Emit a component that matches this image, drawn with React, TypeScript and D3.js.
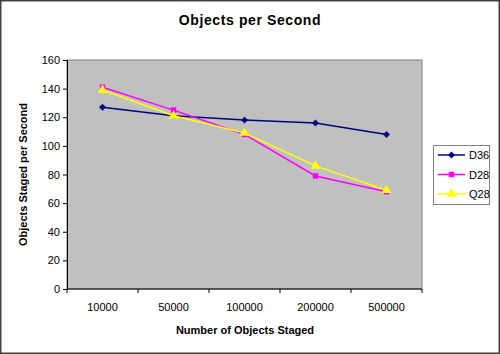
import React, { useRef, useEffect } from "react";
import * as d3 from "d3";

const categories = ["10000", "50000", "100000", "200000", "500000"];
const d36 = [127, 121, 118, 116, 108];
const d28 = [141, 125, 108, 79, 68];
const q28 = [139, 121, 109, 86, 69];
const yTicks = [0, 20, 40, 60, 80, 100, 120, 140, 160];

const seriesList = [
  { name: "D36", values: d36, color: "#000080", marker: "diamond" },
  { name: "D28", values: d28, color: "#FF00FF", marker: "square" },
  { name: "Q28", values: q28, color: "#FFFF00", marker: "triangle" },
];

const App = () => {
  const ref = useRef<SVGSVGElement | null>(null);

  const drawChart = (elt: SVGSVGElement) => {
    const width = 500;
    const height = 354;
    const plot = { left: 67, right: 422, top: 60, bottom: 289 };
    const font = "Arial, 'Liberation Sans', sans-serif";

    const svg = d3.select(elt);
    svg.selectAll("*").remove();

    // background + frame
    svg.append("rect")
      .attr("x", 0.5).attr("y", 0.5)
      .attr("width", width - 1).attr("height", height - 1)
      .attr("fill", "white")
      .attr("stroke", "#404040")
      .attr("stroke-width", 2);

    const x = d3.scaleBand().domain(categories).range([plot.left, plot.right]);
    const y = d3.scaleLinear().domain([0, 160]).range([plot.bottom, plot.top]);

    // plot area
    svg.append("rect")
      .attr("x", plot.left).attr("y", plot.top)
      .attr("width", plot.right - plot.left).attr("height", plot.bottom - plot.top)
      .attr("fill", "#C0C0C0")
      .attr("stroke", "#808080")
      .attr("stroke-width", 1);

    // y axis
    const yAxis = svg.append("g")
      .attr("transform", `translate(${plot.left},0)`)
      .call(d3.axisLeft(y).tickValues(yTicks).tickSize(4).tickPadding(3));
    yAxis.select(".domain").attr("stroke", "black");
    yAxis.selectAll("text")
      .style("font-family", font)
      .style("font-size", "11px")
      .attr("fill", "black");

    // x axis: ticks between categories
    const xg = svg.append("g");
    xg.append("line")
      .attr("x1", plot.left).attr("x2", plot.right)
      .attr("y1", plot.bottom).attr("y2", plot.bottom)
      .attr("stroke", "black");
    const bounds = categories.map((c) => x(c) as number).concat([plot.right]);
    bounds.forEach((b) => {
      xg.append("line")
        .attr("x1", b).attr("x2", b)
        .attr("y1", plot.bottom).attr("y2", plot.bottom + 4)
        .attr("stroke", "black");
    });
    categories.forEach((c) => {
      xg.append("text")
        .attr("x", (x(c) as number) + x.bandwidth() / 2)
        .attr("y", plot.bottom + 22)
        .attr("text-anchor", "middle")
        .style("font-family", font)
        .style("font-size", "11px")
        .text(c);
    });

    // titles
    svg.append("text")
      .attr("x", 250).attr("y", 25)
      .attr("text-anchor", "middle")
      .style("font-family", font)
      .style("font-size", "14px")
      .style("font-weight", "bold")
      .style("letter-spacing", "0.6px")
      .text("Objects per Second");

    svg.append("text")
      .attr("x", 245).attr("y", 334)
      .attr("text-anchor", "middle")
      .style("font-family", font)
      .style("font-size", "11px")
      .style("font-weight", "bold")
      .text("Number of Objects Staged");

    svg.append("text")
      .attr("transform", `translate(27,${(plot.top + plot.bottom) / 2}) rotate(-90)`)
      .attr("text-anchor", "middle")
      .style("font-family", font)
      .style("font-size", "11px")
      .style("font-weight", "bold")
      .text("Objects Staged per Second");

    // diamond = square turned 45deg
    const markerPath = (kind: string) => {
      if (kind === "diamond") return d3.symbol(d3.symbolSquare, 24)();
      if (kind === "square") return d3.symbol(d3.symbolSquare, 30)();
      return d3.symbol(d3.symbolTriangle, 42)();
    };
    const markerRot = (kind: string) => (kind === "diamond" ? " rotate(45)" : "");

    const line = d3.line<number>()
      .x((d, i) => (x(categories[i]) as number) + x.bandwidth() / 2)
      .y((d) => y(d));

    seriesList.forEach((s) => {
      const g = svg.append("g");
      g.append("path")
        .attr("d", line(s.values))
        .attr("fill", "none")
        .attr("stroke", s.color)
        .attr("stroke-width", 1.5);
      s.values.forEach((v, i) => {
        g.append("path")
          .attr("d", markerPath(s.marker))
          .attr("transform", `translate(${(x(categories[i]) as number) + x.bandwidth() / 2},${y(v)})${markerRot(s.marker)}`)
          .attr("fill", s.color);
      });
    });

    // legend
    const lg = svg.append("g");
    lg.append("rect")
      .attr("x", 433.5).attr("y", 145.5)
      .attr("width", 56).attr("height", 59)
      .attr("fill", "white")
      .attr("stroke", "#808080");
    seriesList.forEach((s, i) => {
      const ly = 155 + i * 19.5;
      lg.append("line")
        .attr("x1", 438).attr("x2", 465)
        .attr("y1", ly).attr("y2", ly)
        .attr("stroke", s.color)
        .attr("stroke-width", 1.5);
      lg.append("path")
        .attr("d", markerPath(s.marker))
        .attr("transform", `translate(451.5,${ly})${markerRot(s.marker)}`)
        .attr("fill", s.color);
      lg.append("text")
        .attr("x", 469).attr("y", ly + 4)
        .style("font-family", font)
        .style("font-size", "11px")
        .text(s.name);
    });
  };

  useEffect(() => {
    document.body.style.margin = "0";
    if (ref.current) drawChart(ref.current);
  }, []);

  return <svg ref={ref} width={500} height={354} style={{ display: "block" }} />;
};

export default App;
